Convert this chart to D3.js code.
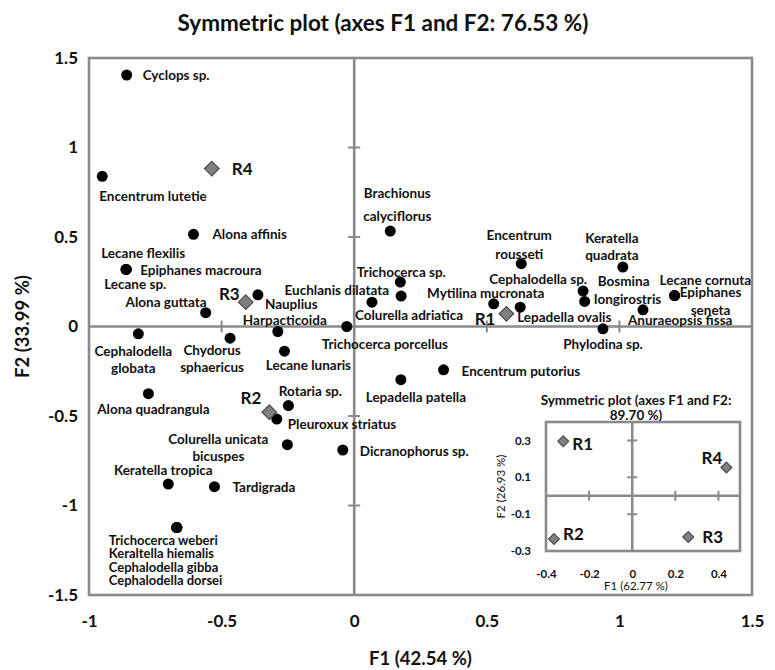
<!DOCTYPE html>
<html>
<head>
<meta charset="utf-8">
<script src="https://cdn.jsdelivr.net/npm/d3@7"></script>
<style>
  html, body { margin: 0; padding: 0; background: #fff; }
  svg { display: block; font-family: Lato, "Open Sans", sans-serif; }
</style>
</head>
<body>
<svg id="chart" width="775" height="670"></svg>
<script>
// ---------------- DATA ----------------
const species = [
  "Cyclops sp.", "Encentrum lutetie", "Alona affinis", "Lecane flexilis", "Epiphanes macroura",
  "Lecane sp.", "Alona guttata", "Nauplius", "Harpacticoida", "Euchlanis dilatata",
  "Colurella adriatica", "Trichocerca sp.", "Trichocerca porcellus", "Brachionus calyciflorus",
  "Encentrum rousseti", "Keratella quadrata", "Cephalodella sp.", "Bosmina longirostris",
  "Mytilina mucronata", "Lepadella ovalis", "Phylodina sp.", "Anuraeopsis fissa",
  "Lecane cornuta", "Epiphanes seneta", "Encentrum putorius", "Lepadella patella",
  "Cephalodella globata", "Chydorus sphaericus", "Lecane lunaris", "Alona quadrangula",
  "Rotaria sp.", "Pleuroxux striatus", "Colurella unicata bicuspes", "Dicranophorus sp.",
  "Keratella tropica", "Tardigrada", "Trichocerca weberi", "Keraltella hiemalis",
  "Cephalodella gibba", "Cephalodella dorsei"
];
const speciesF1 = [
  -0.858, -0.950, -0.606, -0.860, -0.860,
  -0.860, -0.560, -0.363, -0.288, 0.177,
  0.067, 0.174, -0.028, 0.136,
  0.630, 1.013, 0.863, 0.869,
  0.526, 0.626, 0.938, 1.089,
  1.208, 1.208, 0.337, 0.176,
  -0.814, -0.468, -0.263, -0.776,
  -0.248, -0.292, -0.252, -0.043,
  -0.701, -0.527, -0.669, -0.669,
  -0.669, -0.669
];
const speciesF2 = [
  1.405, 0.839, 0.515, 0.319, 0.319,
  0.319, 0.077, 0.177, -0.028, 0.170,
  0.136, 0.248, 0.000, 0.533,
  0.351, 0.332, 0.198, 0.140,
  0.127, 0.108, -0.013, 0.093,
  0.173, 0.173, -0.242, -0.297,
  -0.041, -0.065, -0.138, -0.375,
  -0.442, -0.517, -0.660, -0.690,
  -0.880, -0.895, -1.123, -1.123,
  -1.123, -1.123
];
const regions = ["R1", "R2", "R3", "R4"];
const regionF1 = [0.574, -0.320, -0.409, -0.537];
const regionF2 = [0.071, -0.479, 0.136, 0.882];

const insetRegionF1 = [-0.320, -0.363, 0.260, 0.437];
const insetRegionF2 = [0.295, -0.235, -0.224, 0.153];

const xTicks = [-1, -0.5, 0, 0.5, 1, 1.5];
const yTicks = [-1.5, -1, -0.5, 0, 0.5, 1, 1.5];
const insetXTicks = [-0.4, -0.2, 0, 0.2, 0.4];
const insetYTicks = [-0.3, -0.1, 0.1, 0.3];

const titleText = "Symmetric plot (axes F1 and F2: 76.53 %)";
const xTitle = "F1 (42.54 %)";
const yTitle = "F2 (33.99 %)";
const insetTitle = ["Symmetric plot (axes F1 and F2:", "89.70 %)"];
const insetXTitle = "F1 (62.77 %)";
const insetYTitle = "F2 (26.93 %)";

// ---------------- LABEL LAYOUT (pixel offsets from each mark) ----------------
// [anchor, [[text, dx, dy], ...]]
const speciesLabelLayout = [
  ["start", [["Cyclops sp.", 16, 0]]],
  ["start", [["Encentrum lutetie", -3, 20]]],
  ["start", [["Alona affinis", 19, 0]]],
  ["middle", [["Lecane flexilis", 17, -16]]],
  ["start", [["Epiphanes macroura", 14, 1]]],
  ["start", [["Lecane sp.", -22, 15]]],
  ["end", [["Alona guttata", 1, -11]]],
  ["start", [["Nauplius", 7, 9]]],
  ["middle", [["Harpacticoida", 7, -12]]],
  ["end", [["Euchlanis dilatata", -12, -6]]],
  ["start", [["Colurella adriatica", -17, 13]]],
  ["middle", [["Trichocerca sp.", 1, -10]]],
  ["start", [["Trichocerca porcellus", -25, 17]]],
  ["middle", [["Brachionus", 7, -38], ["calyciflorus", 7, -15]]],
  ["middle", [["Encentrum", -2, -29], ["rousseti", -2, -10]]],
  ["middle", [["Keratella", -11, -29], ["quadrata", -11, -12]]],
  ["end", [["Cephalodella sp.", 4, -12]]],
  ["middle", [["Bosmina", 39, -20], ["longirostris", 43, -2]]],
  ["middle", [["Mytilina mucronata", -8, -11]]],
  ["start", [["Lepadella ovalis", -3, 10]]],
  ["middle", [["Phylodina sp.", 0, 15]]],
  ["start", [["Anuraeopsis fissa", -15, 10]]],
  ["start", [["Lecane cornuta", -15, -16]]],
  ["middle", [["Epiphanes", 36, -4], ["seneta", 36, 14]]],
  ["start", [["Encentrum putorius", 18, 1]]],
  ["middle", [["Lepadella patella", 15, 17]]],
  ["middle", [["Cephalodella", -5, 17], ["globata", -5, 34]]],
  ["middle", [["Chydorus", -18, 12], ["sphaericus", -18, 29]]],
  ["middle", [["Lecane lunaris", 24, 14]]],
  ["middle", [["Alona quadrangula", 5, 15]]],
  ["middle", [["Rotaria sp.", 22, -15]]],
  ["start", [["Pleuroxux striatus", 11, 5]]],
  ["middle", [["Colurella unicata", -69, -6], ["bicuspes", -69, 11]]],
  ["start", [["Dicranophorus sp.", 17, 1]]],
  ["middle", [["Keratella tropica", -5, -14]]],
  ["start", [["Tardigrada", 18, 0]]],
  ["start", [["Trichocerca weberi", -68, 12]]],
  ["start", [["Keraltella hiemalis", -68, 25.5]]],
  ["start", [["Cephalodella gibba", -68, 39]]],
  ["start", [["Cephalodella dorsei", -68, 52]]]
];
const regionLabelLayout = [["end", -11, 5], ["end", -8, -15], ["end", -6, -9], ["start", 20, 0]];
const insetRegionLabelLayout = [["start", 9, 2], ["start", 9, -6], ["start", 14, 0], ["end", -4, -10]];

// ---------------- DRAW ----------------
const svg = d3.select("#chart");
const LINE = "#8a8a8a";
const INK = "#111";

const x = d3.scaleLinear().domain([-1, 1.5]).range([89, 752]);
const y = d3.scaleLinear().domain([-1.5, 1.5]).range([595, 58]);

// title
svg.append("text").attr("x", 383).attr("y", 22).attr("text-anchor", "middle")
  .attr("dominant-baseline", "central").attr("font-size", 22.5).attr("font-weight", "bold")
  .attr("fill", INK).text(titleText);

// plot frame
svg.append("rect").attr("x", x(-1)).attr("y", y(1.5))
  .attr("width", x(1.5) - x(-1)).attr("height", y(-1.5) - y(1.5))
  .attr("fill", "none").attr("stroke", LINE).attr("stroke-width", 2.6);

// zero lines
svg.append("line").attr("x1", x(-1)).attr("x2", x(1.5)).attr("y1", y(0)).attr("y2", y(0))
  .attr("stroke", LINE).attr("stroke-width", 2.6);
svg.append("line").attr("x1", x(0)).attr("x2", x(0)).attr("y1", y(1.5)).attr("y2", y(-1.5))
  .attr("stroke", LINE).attr("stroke-width", 2.6);

// tick marks on zero lines
svg.append("g").selectAll("line").data(xTicks.filter(d => d !== 0 && d > -1 && d < 1.5)).join("line")
  .attr("x1", d => x(d)).attr("x2", d => x(d)).attr("y1", y(0) - 6).attr("y2", y(0) + 6)
  .attr("stroke", LINE).attr("stroke-width", 2);
svg.append("g").selectAll("line").data(yTicks.filter(d => d !== 0 && d > -1.5 && d < 1.5)).join("line")
  .attr("x1", x(0) - 6).attr("x2", x(0) + 6).attr("y1", d => y(d)).attr("y2", d => y(d))
  .attr("stroke", LINE).attr("stroke-width", 2);

// axes (labels only)
const xAxis = svg.append("g").attr("transform", `translate(0,${y(-1.5)})`)
  .call(d3.axisBottom(x).tickValues(xTicks).tickFormat(d => String(d)).tickSize(0).tickPadding(20));
const yAxis = svg.append("g").attr("transform", `translate(${x(-1)},0)`)
  .call(d3.axisLeft(y).tickValues(yTicks).tickFormat(d => String(d)).tickSize(0).tickPadding(11));
[xAxis, yAxis].forEach(a => {
  a.select(".domain").remove();
  a.selectAll("text").attr("font-size", 17).attr("font-weight", "bold").attr("fill", INK)
    .attr("font-family", "Lato, sans-serif");
});

// axis titles
svg.append("text").attr("x", (x(-1) + x(1.5)) / 2).attr("y", 658).attr("text-anchor", "middle")
  .attr("dominant-baseline", "central").attr("font-size", 18.5).attr("font-weight", "bold")
  .attr("fill", INK).text(xTitle);
svg.append("text").attr("transform", `translate(22,${(y(1.5) + y(-1.5)) / 2}) rotate(-90)`)
  .attr("text-anchor", "middle").attr("dominant-baseline", "central").attr("font-size", 18.5)
  .attr("font-weight", "bold").attr("fill", INK).text(yTitle);

// species points
const pts = species.map((s, i) => ({ name: s, f1: speciesF1[i], f2: speciesF2[i], layout: speciesLabelLayout[i] }));
svg.append("g").selectAll("circle").data(pts).join("circle")
  .attr("cx", d => x(d.f1)).attr("cy", d => y(d.f2)).attr("r", 5.5).attr("fill", "#000");

// species labels
const lg = svg.append("g");
pts.forEach((d, i) => {
  const [anchor, lines] = d.layout;
  const small = i >= 36;
  lines.forEach(([t, dx, dy]) => {
    lg.append("text").attr("x", x(d.f1) + dx).attr("y", y(d.f2) + dy)
      .attr("text-anchor", anchor).attr("dominant-baseline", "central")
      .attr("font-size", small ? 13 : 13.5).attr("font-weight", "bold")
      .attr("fill", INK).text(t);
  });
});

// regions (diamonds)
const diamond = d3.symbol().type(d3.symbolDiamond2);
const regs = regions.map((r, i) => ({ name: r, f1: regionF1[i], f2: regionF2[i], layout: regionLabelLayout[i] }));
svg.append("g").selectAll("path").data(regs).join("path")
  .attr("transform", d => `translate(${x(d.f1)},${y(d.f2)})`)
  .attr("d", diamond.size(135)()).attr("fill", "#808080").attr("stroke", "#4a4a4a").attr("stroke-width", 1.2);
svg.append("g").selectAll("text").data(regs).join("text")
  .attr("x", d => x(d.f1) + d.layout[1]).attr("y", d => y(d.f2) + d.layout[2])
  .attr("text-anchor", d => d.layout[0]).attr("dominant-baseline", "central")
  .attr("font-size", 17).attr("font-weight", "bold").attr("fill", INK).text(d => d.name);

// ---------------- INSET ----------------
const ix = d3.scaleLinear().domain([-0.4, 0.5]).range([546, 740]);
const iy = d3.scaleLinear().domain([-0.3, 0.4]).range([551, 422]);
const ins = svg.append("g");

insetTitle.forEach((t, k) => {
  ins.append("text").attr("x", 636).attr("y", 400 + k * 15).attr("text-anchor", "middle")
    .attr("dominant-baseline", "central").attr("font-size", 13.5).attr("font-weight", "bold")
    .attr("fill", INK).text(t);
});
ins.append("rect").attr("x", ix(-0.4)).attr("y", iy(0.4))
  .attr("width", ix(0.5) - ix(-0.4)).attr("height", iy(-0.3) - iy(0.4))
  .attr("fill", "#fff").attr("stroke", LINE).attr("stroke-width", 2.6);
ins.append("line").attr("x1", ix(-0.4)).attr("x2", ix(0.5)).attr("y1", iy(0)).attr("y2", iy(0))
  .attr("stroke", LINE).attr("stroke-width", 2.6);
ins.append("line").attr("x1", ix(0)).attr("x2", ix(0)).attr("y1", iy(0.4)).attr("y2", iy(-0.3))
  .attr("stroke", LINE).attr("stroke-width", 2.6);
ins.append("g").selectAll("line").data(insetXTicks.filter(d => d !== 0 && d > -0.4)).join("line")
  .attr("x1", d => ix(d)).attr("x2", d => ix(d)).attr("y1", iy(0) - 5).attr("y2", iy(0) + 5)
  .attr("stroke", LINE).attr("stroke-width", 2);
ins.append("g").selectAll("line").data(insetYTicks.filter(d => d > -0.3)).join("line")
  .attr("x1", ix(0) - 5).attr("x2", ix(0) + 5).attr("y1", d => iy(d)).attr("y2", d => iy(d))
  .attr("stroke", LINE).attr("stroke-width", 2);

const ixAxis = ins.append("g").attr("transform", `translate(0,${iy(-0.3)})`)
  .call(d3.axisBottom(ix).tickValues(insetXTicks).tickFormat(d => String(d)).tickSize(0).tickPadding(19));
const iyAxis = ins.append("g").attr("transform", `translate(${ix(-0.4)},0)`)
  .call(d3.axisLeft(iy).tickValues(insetYTicks).tickFormat(d => String(d)).tickSize(0).tickPadding(15));
[ixAxis, iyAxis].forEach(a => {
  a.select(".domain").remove();
  a.selectAll("text").attr("font-size", 11.5).attr("font-weight", "bold").attr("fill", INK)
    .attr("font-family", "Lato, sans-serif");
});
ins.append("text").attr("x", 636).attr("y", 585).attr("text-anchor", "middle")
  .attr("dominant-baseline", "central").attr("font-size", 11.5).attr("fill", INK).text(insetXTitle);
ins.append("text").attr("transform", `translate(500,${(iy(0.4) + iy(-0.3)) / 2}) rotate(-90)`)
  .attr("text-anchor", "middle").attr("dominant-baseline", "central").attr("font-size", 11.5)
  .attr("fill", INK).text(insetYTitle);

const iregs = regions.map((r, i) => ({ name: r, f1: insetRegionF1[i], f2: insetRegionF2[i], layout: insetRegionLabelLayout[i] }));
ins.append("g").selectAll("path").data(iregs).join("path")
  .attr("transform", d => `translate(${ix(d.f1)},${iy(d.f2)})`)
  .attr("d", diamond.size(75)()).attr("fill", "#808080").attr("stroke", "#4a4a4a").attr("stroke-width", 1.2);
ins.append("g").selectAll("text").data(iregs).join("text")
  .attr("x", d => ix(d.f1) + d.layout[1]).attr("y", d => iy(d.f2) + d.layout[2])
  .attr("text-anchor", d => d.layout[0]).attr("dominant-baseline", "central")
  .attr("font-size", 17).attr("font-weight", "bold").attr("fill", INK).text(d => d.name);
</script>
</body>
</html>
